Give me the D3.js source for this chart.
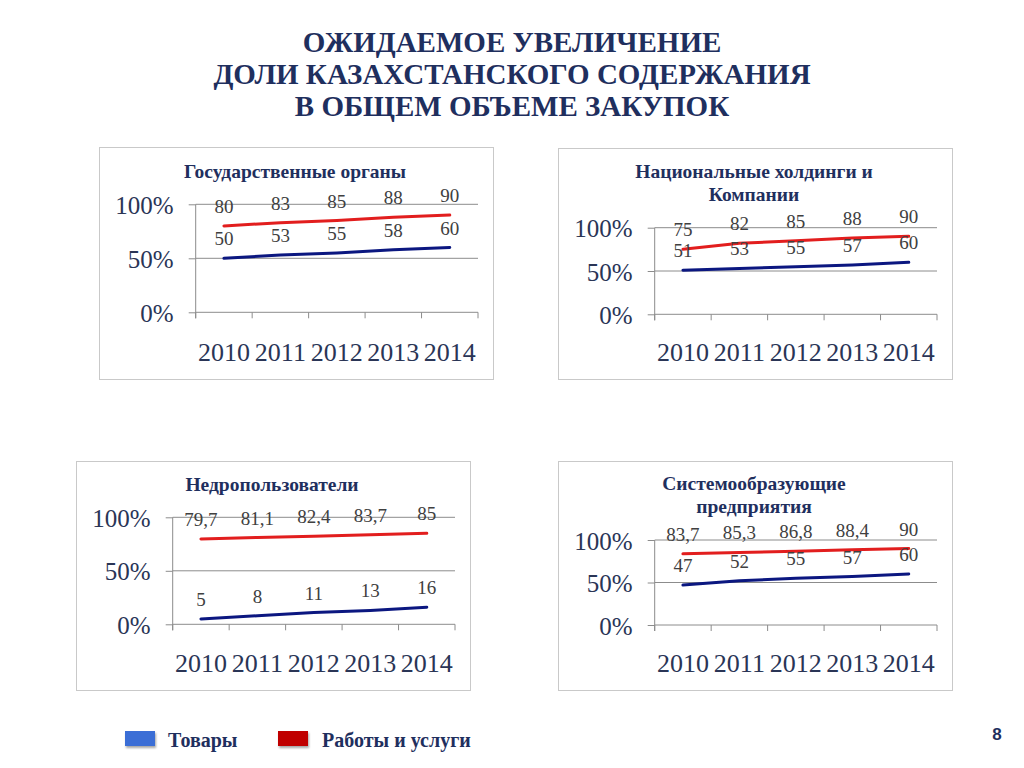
<!DOCTYPE html>
<html><head><meta charset="utf-8">
<script src="https://cdn.jsdelivr.net/npm/d3@7"></script>
<style>body{margin:0;background:#fff}svg{display:block}</style>
</head><body>
<svg id="c" width="1024" height="768"></svg>
<script>
const years = ["2010","2011","2012","2013","2014"];
const yTicks = [0, 50, 100];
const seriesNames = ["Товары", "Работы и услуги"];
const titles = [["Государственные органы"], ["Национальные холдинги и", "Компании"], ["Недропользователи"], ["Системообразующие", "предприятия"]];
const goodsGov = [50, 53, 55, 58, 60];
const worksGov = [80, 83, 85, 88, 90];
const goodsHold = [51, 53, 55, 57, 60];
const worksHold = [75, 82, 85, 88, 90];
const goodsSub = [5, 8, 11, 13, 16];
const worksSub = [79.7, 81.1, 82.4, 83.7, 85];
const goodsSys = [47, 52, 55, 57, 60];
const worksSys = [83.7, 85.3, 86.8, 88.4, 90];

const svg = d3.select("#c");
const navy = "#1F2F5E";
const lineBlue = "#0B1780", lineRed = "#E21E1E";

// main title
["ОЖИДАЕМОЕ УВЕЛИЧЕНИЕ", "ДОЛИ КАЗАХСТАНСКОГО СОДЕРЖАНИЯ", "В ОБЩЕМ ОБЪЕМЕ ЗАКУПОК"].forEach((t, i) => {
  svg.append("text").attr("x", 512).attr("y", 52 + i * 32).attr("text-anchor", "middle")
    .attr("font-family", "Liberation Serif").attr("font-weight", "bold").attr("font-size", 29)
    .attr("fill", navy).text(t);
});

const panels = [
  {box:[99,147,394,232], ax:195.7, right:478, y0:312.3, y100:204.3, title:titles[0], ty:[178], yy:352, goods:goodsGov, works:worksGov},
  {box:[558,148,394,231], ax:654.7, right:937, y0:314.3, y100:227.7, title:titles[1], ty:[178,201], yy:352, goods:goodsHold, works:worksHold},
  {box:[76,461,394,229], ax:172.7, right:455, y0:624.3, y100:517.3, title:titles[2], ty:[491], yy:663, goods:goodsSub, works:worksSub},
  {box:[558,461,394,229], ax:654.7, right:937, y0:625, y100:540, title:titles[3], ty:[490,513], yy:663, goods:goodsSys, works:worksSys}
];

panels.forEach(p => {
  const g = svg.append("g");
  g.append("rect").attr("x", p.box[0]+0.5).attr("y", p.box[1]+0.5).attr("width", p.box[2]).attr("height", p.box[3])
    .attr("fill", "#fff").attr("stroke", "#C9C9C9");
  const tcx = p.box[0] + p.box[2] / 2 - 1;
  p.title.forEach((t, i) => {
    g.append("text").attr("x", tcx).attr("y", p.ty[i]).attr("text-anchor", "middle")
      .attr("font-family", "Liberation Serif").attr("font-weight", "bold").attr("font-size", 19.5)
      .attr("fill", navy).text(t);
  });
  const x = d3.scaleBand().domain(years).range([p.ax, p.right]).padding(0);
  const y = d3.scaleLinear().domain([0, 100]).range([p.y0, p.y100]);
  // gridlines
  g.append("g").selectAll("line").data(yTicks.filter(v => v > 0)).join("line")
    .attr("x1", p.ax).attr("x2", p.right).attr("y1", d => y(d)).attr("y2", d => y(d))
    .attr("stroke", "#8C8C8C").attr("stroke-width", 1);
  // y axis
  const ya = g.append("g").attr("transform", `translate(${p.ax},0)`)
    .call(d3.axisLeft(y).tickValues(yTicks).tickSize(7).tickPadding(15).tickFormat(d => d + "%"));
  ya.select(".domain").attr("stroke", "#8C8C8C").attr("d", `M-0,${y(100)}V${p.y0 + 6}`);
  ya.selectAll(".tick line").attr("stroke", "#8C8C8C");
  ya.selectAll(".tick text").attr("font-family", "Liberation Serif").attr("font-size", 25).attr("fill", "#2A3556")
    .attr("dy", "0.36em");
  // x axis
  const xa = g.append("g").attr("transform", `translate(0,${p.y0})`)
    .call(d3.axisBottom(x).tickSize(0).tickPadding(0));
  xa.select(".domain").attr("stroke", "#8C8C8C").attr("d", `M${p.ax},0H${p.right}`);
  xa.selectAll(".tick text").attr("font-family", "Liberation Serif").attr("font-size", 26).attr("fill", "#2A3556")
    .attr("y", p.yy - p.y0).attr("dy", "0.35em");
  g.append("g").selectAll("line").data(years.concat(["end"])).join("line")
    .attr("x1", (d, i) => p.ax + i * x.bandwidth()).attr("x2", (d, i) => p.ax + i * x.bandwidth())
    .attr("y1", p.y0).attr("y2", p.y0 + 6).attr("stroke", "#8C8C8C");
  const cx = d => x(d) + x.bandwidth() / 2;
  [[p.goods, lineBlue], [p.works, lineRed]].forEach(([vals, col]) => {
    const line = d3.line().x((d, i) => cx(years[i])).y(d => y(d));
    g.append("path").datum(vals).attr("d", line).attr("fill", "none").attr("stroke", col)
      .attr("stroke-width", 3).attr("stroke-linecap", "round");
  });
  [p.goods, p.works].forEach(vals => {
    g.append("g").selectAll("text").data(vals).join("text")
      .attr("x", (d, i) => cx(years[i])).attr("y", d => y(d) - 13)
      .attr("text-anchor", "middle").attr("font-family", "Liberation Serif").attr("font-size", 19)
      .attr("fill", "#404040").text(d => String(d).replace(".", ","));
  });
});

// legend
const defs = svg.append("defs");
const f = defs.append("filter").attr("id", "sh").attr("x", "-20%").attr("y", "-20%").attr("width", "150%").attr("height", "180%");
f.append("feDropShadow").attr("dx", 1).attr("dy", 2).attr("stdDeviation", 1.2).attr("flood-color", "#000").attr("flood-opacity", 0.35);
const legend = [{name: seriesNames[0], col: "#3A6ED6", x: 125, tx: 168}, {name: seriesNames[1], col: "#C00000", x: 278, tx: 322}];
legend.forEach(l => {
  svg.append("rect").attr("x", l.x).attr("y", 731).attr("width", 30).attr("height", 15).attr("fill", l.col).attr("filter", "url(#sh)");
  svg.append("text").attr("x", l.tx).attr("y", 747).attr("font-family", "Liberation Serif").attr("font-weight", "bold")
    .attr("font-size", 20).attr("fill", navy).text(l.name);
});
svg.append("text").attr("x", 997).attr("y", 740).attr("text-anchor", "middle").attr("font-family", "Liberation Sans")
  .attr("font-weight", "bold").attr("font-size", 17).attr("fill", navy).text("8");
</script>
</body></html>
